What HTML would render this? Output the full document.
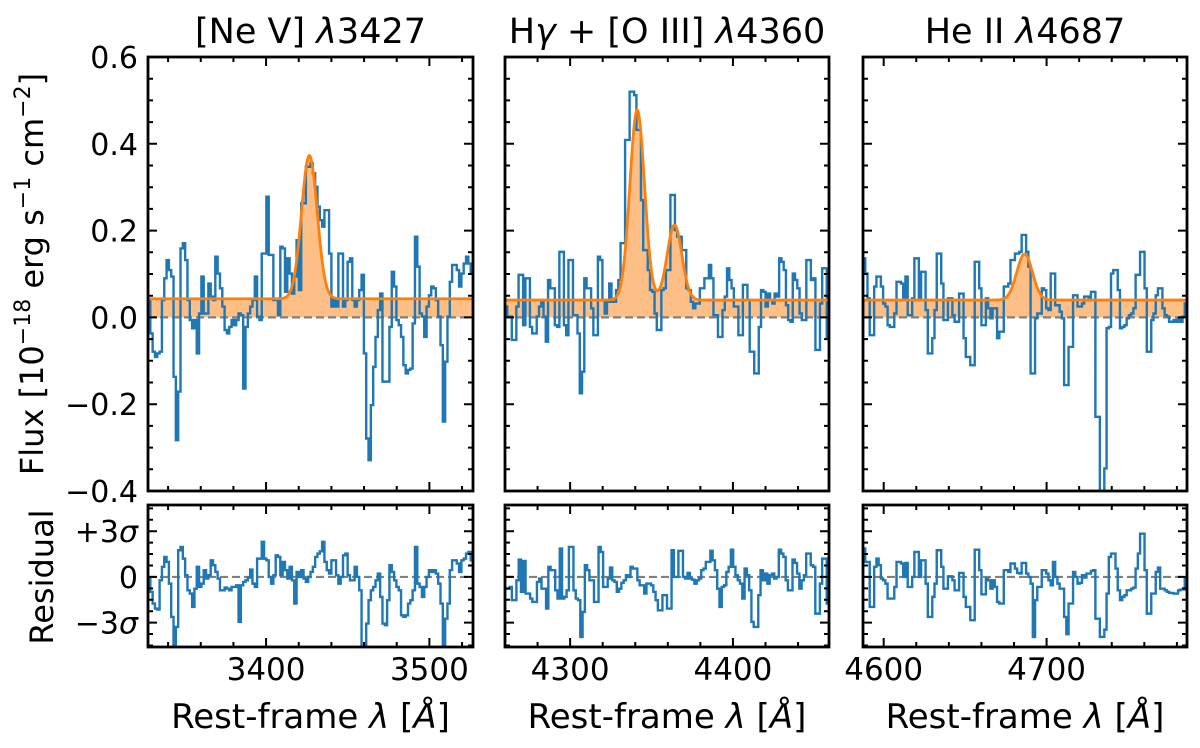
<!DOCTYPE html>
<html><head><meta charset="utf-8"><style>
html,body{margin:0;padding:0;background:#fff;}
svg{display:block;font-family:"DejaVu Sans","Liberation Sans",sans-serif;}
</style></head><body>
<svg id="fig" width="1200" height="748" viewBox="0 0 1200 748" xmlns="http://www.w3.org/2000/svg"></svg>
<script>
// ---- data ----
const xLimits = [[3327.7, 3526.7], [4260, 4459], [4587.3, 4786.2]];
const xMajorTicks = [[3400, 3500], [4300, 4400], [4600, 4700]];
const yTicks = [0.6, 0.4, 0.2, 0.0, -0.2, -0.4];
const yTickLabels = ["0.6", "0.4", "0.2", "0.0", "\u22120.2", "\u22120.4"];
const residTicks = [3, 0, -3];
const residTickLabels = ["+3\u03c3", "0", "\u22123\u03c3"];
const continuum = [0.043, 0.04, 0.04];
const lineCenters = [[3426.5], [4341.2, 4364.1], [4686.5]];
const lineAmps = [[0.33], [0.438, 0.173], [0.106]];
const lineSigmas = [[4.8], [4.5, 4.5], [4.8]];

const flux1 = [0.04,-0.037,-0.079,-0.091,-0.083,-0.079,0.04,0.09,0.132,0.109,
0.094,-0.137,-0.283,-0.171,0.159,0.171,0.132,0.04,-0.006,-0.025,
-0.006,-0.083,0.009,0.094,0.009,0.009,0.078,0.048,0.04,0.14,
0.101,0.067,0.025,-0.029,-0.037,-0.022,-0.006,-0.018,-0.006,0.009,
0.005,-0.164,-0.022,0.009,0.025,0.04,0.094,0.002,-0.006,0.147,
0.147,0.278,0.144,0.144,0.04,0.04,0.005,0.163,0.159,0.059,
0.136,0.101,0.055,0.094,0.178,0.063,0.263,0.263,0.347,0.347,
0.355,0.332,0.301,0.255,0.224,0.209,0.247,0.247,0.147,0.025,
0.04,0.025,0.147,0.147,0.025,0.04,0.128,0.136,0.04,0.025,
0.04,0.063,0.098,-0.083,-0.279,-0.329,-0.202,-0.114,-0.045,0.017,
0.055,-0.148,-0.148,-0.148,-0.022,0.105,0.071,-0.006,-0.018,-0.045,
-0.11,-0.129,-0.121,-0.118,-0.014,0.186,0.117,0.009,0.002,-0.045,
0.025,0.051,0.071,0.067,0.04,0.002,-0.064,-0.24,-0.102,0.002,
0.082,0.121,0.121,0.109,0.071,0.101,0.124,0.14,0.124,0.101];
const flux2 = [0.025,0.002,0.002,-0.052,-0.052,0.025,0.098,0.098,-0.018,0.09,
0.09,-0.022,-0.037,-0.037,0.002,0.025,0.036,0.002,-0.056,0.086,
0.067,0.067,-0.018,-0.022,0.151,0.151,-0.018,-0.041,0.132,0.132,
0.005,0.005,-0.037,-0.175,-0.125,0.09,0.067,0.067,0.021,-0.041,
-0.041,0.14,0.132,0.04,0.009,0.036,0.078,0.036,0.036,0.063,
0.086,0.171,0.171,0.409,0.409,0.52,0.52,0.512,0.432,0.432,
0.27,0.155,0.155,0.109,0.063,0.059,0.009,-0.029,-0.029,0.063,
0.067,0.109,0.109,0.282,0.282,0.201,0.186,0.186,0.155,0.155,
0.067,0.063,0.036,0.021,0.032,0.032,0.067,0.067,0.09,0.09,
0.121,0.09,0.005,0.005,-0.045,-0.045,0.017,0.048,0.113,0.086,
0.067,0.025,0.025,-0.041,-0.041,0.075,0.075,0.04,-0.079,-0.079,
-0.129,-0.129,-0.022,0.063,0.059,0.025,0.055,0.04,0.032,0.055,
0.048,0.136,0.128,0.109,0.028,-0.006,-0.01,0.101,0.086,0.067,
0.009,-0.006,-0.006,0.132,0.132,0.086,0.09,-0.075,-0.075,0.032,
0.113,0.113,-0.045];
const flux3 = [0.136,0.101,0.044,-0.041,-0.041,0.071,0.094,0.094,0.071,0.032,
0.025,-0.018,-0.022,-0.022,0.009,0.082,0.082,0.078,0.04,0.094,
0.005,0.005,0.044,0.136,0.136,0.04,0.105,0.105,0.017,-0.083,
-0.083,-0.048,0.017,0.147,0.147,0.078,-0.006,-0.006,0.044,0.044,
0.005,-0.01,-0.01,0.055,0.055,-0.048,-0.091,-0.091,-0.11,-0.11,
0.128,0.128,0.067,-0.018,-0.018,0.044,0.021,-0.002,0.021,0.021,
-0.048,-0.033,-0.033,0.071,0.071,0.078,0.132,0.132,0.147,0.147,
0.151,0.19,0.19,0.151,0.117,-0.129,-0.129,-0.002,0.009,0.009,
0.067,0.063,0.021,0.017,0.101,0.101,0.028,0.028,0.013,-0.002,
-0.156,-0.156,-0.068,-0.068,0.051,0.051,0.025,0.025,0.032,0.048,
0.048,0.04,0.059,0.059,-0.229,-0.229,-0.45,-0.45,-0.348,-0.025,
-0.022,0.101,0.109,0.109,0.063,-0.025,-0.022,-0.018,-0.002,0.005,
0.009,0.021,0.098,0.098,0.151,0.151,0.067,-0.079,-0.079,-0.006,
0.009,0.051,0.067,0.067,0.021,0.005,0.002,-0.01,-0.01,-0.006,
-0.01,-0.002,-0.01,0.002,0.032];
const resid1 = [-0.11,-0.98,-1.75,-2.08,-2.14,-0.22,0.66,1.31,0.98,-0.44,
-2.63,-5,-3.28,1.75,1.97,1.2,0.11,-0.88,-1.09,-1.97,
-0.77,0.66,-0.66,-0.44,0.44,-0.11,0.11,1.09,0.77,0.33,
-0.11,-0.88,-0.88,-0.7,-0.77,-0.88,-0.66,-0.66,-0.55,-2.95,
-0.55,-0.33,-0.22,-0.04,0.48,-0.44,-0.66,1.2,1.2,2.3,
1.2,1.09,0,-0.44,0.11,1.42,1.31,0.11,0.98,0.44,
-0.11,0.66,-0.22,-1.75,0.33,0,0.44,-0.11,-0.33,0,
0.33,0.66,1.31,1.53,1.68,2.3,0.98,0.44,0.22,1.09,
1.09,0.11,-0.44,0,1.42,1.53,0.11,-0.22,-0.22,0.66,
0,-0.88,-5,-5,-3.06,-1.53,-0.88,-0.66,-0.22,0.22,
-1.31,-3.06,-3.17,-1.53,0.77,0.33,-0.22,-0.66,-0.88,-2.52,
-2.63,-2.52,-1.75,-1.53,-0.88,1.97,-0.44,-0.66,-1.31,-0.66,
0,0.44,0.33,0.44,0.22,-0.44,-1.75,-5,-2.74,-1.75,
0.44,1.09,1.09,0.88,0.33,1.09,1.2,1.53,1.64,1.09];
const resid2 = [-0.77,-0.77,-0.66,-1.53,-1.53,-0.22,1.14,-0.98,1.05,-1.09,
-1.09,-1.42,-1.64,-1.64,-0.33,-0.11,-0.77,-0.77,-2.08,0.66,
0.44,0.44,-0.88,-1.42,1.86,-1.42,-1.31,-0.88,1.97,1.97,
-0.88,-1.42,-1.53,-3.94,-2.3,0.77,0.44,-0.22,-0.22,-1.64,
-1.64,1.97,1.64,-0.66,-0.66,-0.11,0.61,-0.22,-0.33,-0.98,
-0.77,-0.39,-0.22,0.11,0,0.66,0.55,0.55,-0.22,-0.55,
-0.55,-1.09,-0.44,-0.44,-0.55,-0.98,-1.53,-2.19,-2.19,-1.2,
-1.2,-2.08,-2.08,1.75,0,0,1.71,1.71,0,-0.11,
0.26,-0.11,-0.18,-0.44,-0.22,-0.11,0.44,0.55,0.98,0.98,
1.71,1.09,0.44,-0.77,-1.97,-0.66,-0.55,0.33,0.66,1.79,
0.66,0.11,-0.22,-0.44,-1.42,0.55,0.11,-0.88,-2.95,-3.28,
-3.28,-1.2,0.44,-0.22,0.22,-0.44,0.11,0.22,-0.11,0,
1.79,1.53,1.31,-0.22,-0.88,-0.88,1.14,0.92,0.22,-0.77,
-0.22,0.11,1.53,1.53,0.77,0.66,-2.41,-2.41,-0.44,1.2,
1.2,-1.75];
const resid3 = [1.86,0.98,0.98,-1.97,-1.97,0.66,1.2,0.77,-0.11,-0.22,
-0.44,-1.42,-1.42,-1.42,-0.66,0.98,0.98,0.88,0,0.92,
-0.66,-0.66,0,1.64,1.64,0,1.09,1.09,-0.44,-2.63,
-2.63,-1.31,-0.44,1.75,1.75,0.66,-0.77,-0.77,0.04,0.04,
-0.22,-0.88,-0.88,0.26,0.26,-1.31,-1.97,-1.97,-2.84,-2.84,
1.79,1.79,0.44,-1.14,-1.14,-0.11,-0.22,-0.77,-0.22,-0.66,
-1.64,-1.75,-1.75,0.44,0.44,0.33,0.88,0.88,0.55,0.26,
0.22,0.92,0.92,0.22,0,-0.44,-3.94,-1.53,-0.66,-0.66,
0.44,0.44,0.22,-0.22,-0.55,0.98,0,-0.44,-0.77,-0.77,
-2.63,-3.76,-1.75,-1.75,0.33,0,-0.44,-0.39,0.11,-0.04,
0.22,0.22,0.39,0.44,-2.74,-2.74,-3.94,-3.94,-3.46,-1.09,
1.31,1.53,1.53,0.55,-0.88,-1.53,-1.31,-1.2,-0.88,-0.88,
-0.77,-0.7,0.55,1.53,2.84,2.84,0.44,-2.41,-2.41,-1.09,
-1.09,0.33,0.61,-0.77,-0.77,-0.88,-0.98,-1.05,-1.05,-1.09,
-1.09,-0.88,-0.83,-0.83,-0.11];
const fluxes = [flux1, flux2, flux3];
const resids = [resid1, resid2, resid3];

// ---- layout ----
const panelX = [148, 505, 863], panelW = [325, 324, 324];
const mainTop = 57, mainBot = 491, resTop = 505, resBot = 647;
const yLim = [-0.4, 0.6], rLim = [-4.6, 4.72];
const NS = "http://www.w3.org/2000/svg";
const svg = document.getElementById('fig');
function el(tag, attrs, parent) {
  const e = document.createElementNS(NS, tag);
  for (const k in attrs) e.setAttribute(k, attrs[k]);
  (parent || svg).appendChild(e);
  return e;
}
const defs = el('defs', {});

for (let p = 0; p < 3; p++) {
  const x0 = panelX[p], w = panelW[p];
  const xs = v => x0 + (v - xLimits[p][0]) / (xLimits[p][1] - xLimits[p][0]) * w;
  const ys = v => mainTop + (yLim[1] - v) / (yLim[1] - yLim[0]) * (mainBot - mainTop);
  const rs = v => resTop + (rLim[1] - v) / (rLim[1] - rLim[0]) * (resBot - resTop);
  const g = el('g', {});
  
  
  const c1 = el('clipPath', {id: 'cm' + p}, defs);
  el('rect', {x: x0, y: mainTop, width: w, height: mainBot - mainTop}, c1);
  const c2 = el('clipPath', {id: 'cr' + p}, defs);
  el('rect', {x: x0, y: resTop, width: w, height: resBot - resTop}, c2);

  const model = lam => { let v = continuum[p]; for (let k = 0; k < lineCenters[p].length; k++) v += lineAmps[p][k] * Math.exp(-0.5 * Math.pow((lam - lineCenters[p][k]) / lineSigmas[p][k], 2)); return v; };
  let pts = [];
  const NM = 400;
  for (let i = 0; i <= NM; i++) { const lam = xLimits[p][0] + (xLimits[p][1] - xLimits[p][0]) * i / NM; pts.push([xs(lam), ys(model(lam))]); }
  const lineD = 'M' + pts.map(q => q[0].toFixed(2) + ',' + q[1].toFixed(2)).join('L');
  const fill = el('path', {d: lineD + `L${xs(xLimits[p][1])},${ys(0)}L${xs(xLimits[p][0])},${ys(0)}Z`, fill: '#fdbf86', stroke: 'none', 'clip-path': `url(#cm${p})`}, g);
  
  
  const zl = el('line', {x1: x0, x2: x0 + w, y1: ys(0), y2: ys(0), stroke: '#808080', 'stroke-width': 2.2, 'stroke-dasharray': '8,4'}, g);
  
  

  const f = fluxes[p], n = f.length, bw = (xLimits[p][1] - xLimits[p][0]) / n;
  let d = '';
  for (let i = 0; i < n; i++) {
    const a = xs(xLimits[p][0] + i * bw), b = xs(xLimits[p][0] + (i + 1) * bw), y = ys(f[i]);
    d += (i === 0 ? 'M' : 'L') + a.toFixed(2) + ',' + y.toFixed(2) + 'L' + b.toFixed(2) + ',' + y.toFixed(2);
  }
  const sp = el('path', {d: d, fill: 'none', stroke: '#1f77b4', 'stroke-width': 2.4, 'clip-path': `url(#cm${p})`}, g);
  
  
  const ml = el('path', {d: lineD, fill: 'none', stroke: '#ff7f0e', 'stroke-width': 2.8, 'clip-path': `url(#cm${p})`}, g);
  
  

  const r = resids[p], nr = r.length, rbw = (xLimits[p][1] - xLimits[p][0]) / nr;
  const rz = el('line', {x1: x0, x2: x0 + w, y1: rs(0), y2: rs(0), stroke: '#808080', 'stroke-width': 2.2, 'stroke-dasharray': '8,4'}, g);
  
  
  d = '';
  for (let i = 0; i < nr; i++) {
    const a = xs(xLimits[p][0] + i * rbw), b = xs(xLimits[p][0] + (i + 1) * rbw), y = rs(r[i]);
    d += (i === 0 ? 'M' : 'L') + a.toFixed(2) + ',' + y.toFixed(2) + 'L' + b.toFixed(2) + ',' + y.toFixed(2);
  }
  const rp = el('path', {d: d, fill: 'none', stroke: '#1f77b4', 'stroke-width': 2.4, 'clip-path': `url(#cr${p})`}, g);
  
  

  let tk = '';
  for (let v = Math.ceil(xLimits[p][0] / 20) * 20; v <= xLimits[p][1]; v += 20) {
    const X = xs(v), L = (v % 100 === 0) ? 9 : 5;
    tk += `M${X},${mainTop}v${L}M${X},${mainBot}v${-L}M${X},${resTop}v${L}M${X},${resBot}v${-L}`;
  }
  for (let i = 0; i <= 20; i++) {
    const v = -0.4 + i * 0.05, Y = ys(v), L = (i % 4 === 0) ? 9 : 5;
    tk += `M${x0},${Y}h${L}M${x0 + w},${Y}h${-L}`;
  }
  for (let i = -6; i <= 6; i++) {
    const v = i * 0.75; if (v < rLim[0] || v > rLim[1]) continue;
    const Y = rs(v), L = (i % 4 === 0) ? 9 : 5;
    tk += `M${x0},${Y}h${L}M${x0 + w},${Y}h${-L}`;
  }
  const tp = el('path', {d: tk, stroke: '#000', 'stroke-width': 2, fill: 'none'}, g);
  
  
  const f1 = el('rect', {x: x0, y: mainTop, width: w, height: mainBot - mainTop, fill: 'none', stroke: '#000', 'stroke-width': 2.8}, g);
  
  
  const f2 = el('rect', {x: x0, y: resTop, width: w, height: resBot - resTop, fill: 'none', stroke: '#000', 'stroke-width': 2.8}, g);
  
  

  for (const v of xMajorTicks[p]) {
    const t = el('text', {x: xs(v), y: 680, 'text-anchor': 'middle', 'font-size': 31}, g);
    t.textContent = v;
    
    
  }
  const xl = el('text', {x: x0 + w / 2, y: 728, 'text-anchor': 'middle', 'font-size': 34}, g);
  xl.innerHTML = 'Rest-frame <tspan font-style="italic">λ</tspan> [<tspan font-style="italic">Å</tspan>]';
  
  

  const tt = el('text', {x: x0 + w / 2, y: 43, 'text-anchor': 'middle', 'font-size': 35}, g);
  if (p === 0) tt.innerHTML = '[Ne V] <tspan font-style="italic">λ</tspan>3427';
  if (p === 1) tt.innerHTML = 'H<tspan font-style="italic">γ</tspan> + [O III] <tspan font-style="italic">λ</tspan>4360';
  if (p === 2) tt.innerHTML = 'He II <tspan font-style="italic">λ</tspan>4687';
  
  

  if (p === 0) {
    for (let i = 0; i < yTicks.length; i++) {
      const t = el('text', {x: 138, y: ys(yTicks[i]) + 11, 'text-anchor': 'end', 'font-size': 30}, g);
      t.textContent = yTickLabels[i];
      
      
    }
    for (let i = 0; i < residTicks.length; i++) {
      const t = el('text', {x: 138, y: rs(residTicks[i]) + 11, 'text-anchor': 'end', 'font-size': 30}, g);
      t.innerHTML = residTickLabels[i].replace('\u03c3', '<tspan font-style="italic">σ</tspan>');
      
      
    }
  }
}
const yl = el('text', {x: 0, y: 0, 'text-anchor': 'middle', 'font-size': 32, transform: 'translate(43,274) rotate(-90)'});
yl.innerHTML = 'Flux [10<tspan dy="-13" font-size="22">−18</tspan><tspan dy="13"> erg s</tspan><tspan dy="-13" font-size="22">−1</tspan><tspan dy="13"> cm</tspan><tspan dy="-13" font-size="22">−2</tspan><tspan dy="13">]</tspan>';


const rl = el('text', {x: 0, y: 0, 'text-anchor': 'middle', 'font-size': 32, transform: 'translate(53,577) rotate(-90)'});
rl.textContent = 'Residual';


</script>
</body></html>
